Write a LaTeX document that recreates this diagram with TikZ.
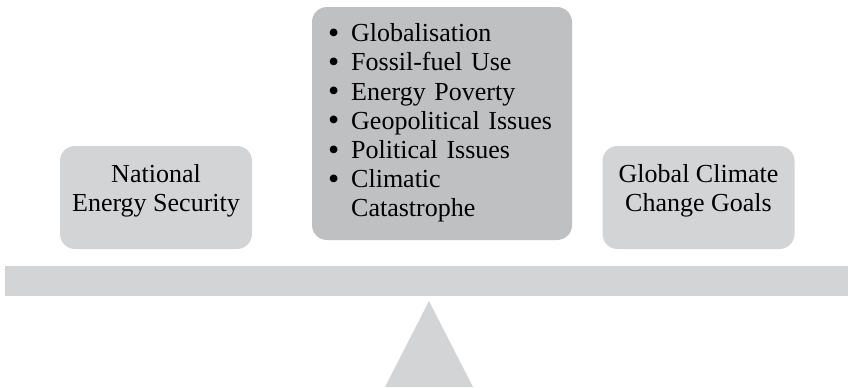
\documentclass[tikz,border=0pt]{standalone}
\usepackage{fontspec}
\setmainfont{Liberation Serif}
\definecolor{paleGray}{RGB}{211,212,214}
\definecolor{midGray}{RGB}{191,192,194}
\newcommand\dotmark{\smash{\raisebox{-.8pt}{\fontsize{16}{14.6}\selectfont\textbullet}}}
\tikzset{
	goalbox/.style={fill=paleGray, rounded corners=7.5pt, minimum width=96pt, minimum height=51.5pt, inner sep=0pt, align=center},
	issuebox/.style={fill=midGray, rounded corners=7.5pt, minimum width=130pt, minimum height=116.5pt, inner sep=0pt, text width=114pt, align=left}
}
\begin{document}
\begin{tikzpicture}[x=.5pt, y=-.5pt, font=\fontsize{13}{14.6}\selectfont, line join=round]
	\useasboundingbox (0,0) rectangle (848,387);
	% the two pans and the weight in between
	\node[goalbox] (national) at (156,197.5) {National\\Energy Security\\[-5pt]};
	\node[issuebox] (issues) at (442,123.5) {\begin{tabular}{@{}l@{\hspace{6pt}}l@{}}
			\dotmark & Globalisation\\
			\dotmark & Fossil-fuel Use\\
			\dotmark & Energy Poverty\\
			\dotmark & Geopolitical Issues\\
			\dotmark & Political Issues\\
			\dotmark & Climatic\\
			& Catastrophe
		\end{tabular}};
	\node[goalbox] (climate) at (698.5,197.5) {Global Climate\\Change Goals\\[-5pt]};
	% beam and fulcrum
	\fill[paleGray] (5,266) rectangle (848,296);
	\fill[paleGray] (429,301)--(473,387)--(385,387)--cycle;
\end{tikzpicture}
\end{document}
